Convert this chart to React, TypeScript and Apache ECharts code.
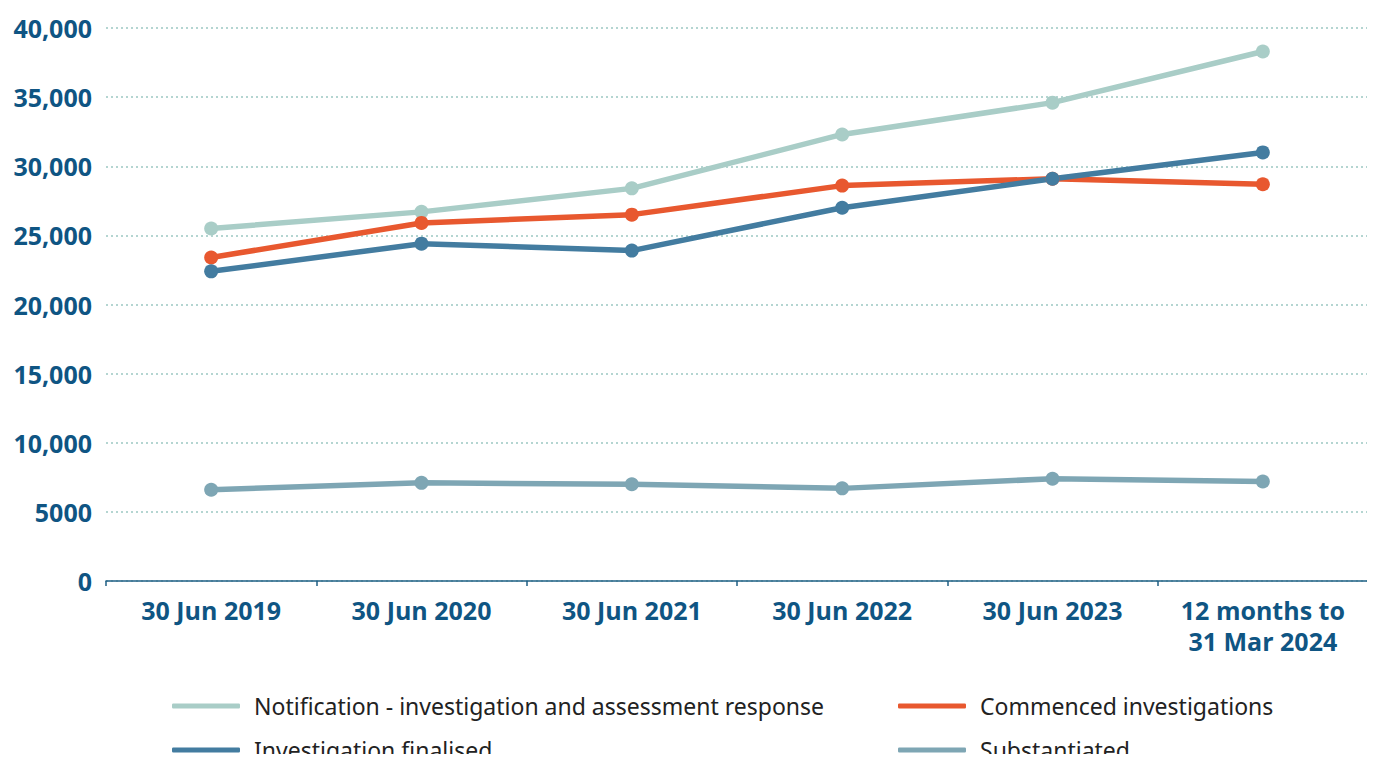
import React, { useEffect, useRef } from "react";
import * as echarts from "echarts";

const categories = ["30 Jun 2019", "30 Jun 2020", "30 Jun 2021", "30 Jun 2022", "30 Jun 2023", "12 months to\n31 Mar 2024"];
const notification = [25500, 26700, 28400, 32300, 34600, 38300];
const commenced = [23400, 25900, 26500, 28600, 29100, 28700];
const finalised = [22400, 24400, 23900, 27000, 29100, 31000];
const substantiated = [6600, 7100, 7000, 6700, 7400, 7200];
const yTicks = { min: 0, max: 40000, interval: 5000 };

const names = [
  "Notification - investigation and assessment response",
  "Commenced investigations",
  "Investigation finalised",
  "Substantiated",
];
const labelColor = "#0f5583";

export default function App() {
  const ref = useRef<HTMLDivElement>(null);
  useEffect(() => {
    const chart = echarts.init(ref.current!, null, { renderer: "svg" });
    const mk = (name: string, data: number[], color: string) => ({
      name,
      type: "line",
      data,
      symbol: "circle",
      symbolSize: 14,
      lineStyle: { width: 5.5, color },
      itemStyle: { color },
      z: 3,
    });
    const leg = (name: string, left: number, top: number) => ({
      left,
      top,
      padding: 0,
      itemWidth: 68,
      itemHeight: 5,
      icon: "roundRect",
      data: [name],
      textStyle: { fontFamily: "Noto Sans", fontSize: 23, color: "#222", lineHeight: 26, padding: [0, 0, 0, 9] },
    });
    chart.setOption({
      animation: false,
      grid: { left: 106, right: 7, top: 28, bottom: 181, containLabel: false },
      legend: [
        leg(names[0], 172, 693),
        leg(names[2], 172, 737),
        leg(names[1], 898, 693),
        leg(names[3], 898, 737),
      ],
      xAxis: {
        type: "category",
        data: categories,
        boundaryGap: true,
        axisLine: { lineStyle: { color: "#1f5f85", width: 1.5 } },
        axisTick: { show: true, length: 5, lineStyle: { color: "#1f5f85", width: 1.5 } },
        axisLabel: {
          color: labelColor,
          fontFamily: "Open Sans",
          fontWeight: "bold",
          fontSize: 25,
          lineHeight: 31,
          margin: 13,
          interval: 0,
        },
      },
      yAxis: {
        type: "value",
        min: yTicks.min,
        max: yTicks.max,
        interval: yTicks.interval,
        axisLine: { show: false },
        axisTick: { show: false },
        splitLine: { lineStyle: { color: "#9cc8c2", type: [2, 3], width: 1.5 } },
        axisLabel: {
          color: labelColor,
          fontFamily: "Open Sans",
          fontWeight: "bold",
          fontSize: 25,
          margin: 14,
          formatter: (v: number) => (v >= 10000 ? v.toLocaleString("en-US") : String(v)),
        },
      },
      series: [
        mk(names[0], notification, "#a9cdc7"),
        mk(names[1], commenced, "#e8582f"),
        mk(names[2], finalised, "#437ca0"),
        mk(names[3], substantiated, "#7ea6b4"),
      ],
    });
    return () => chart.dispose();
  }, []);
  return <div ref={ref} style={{ width: 1375, height: 762, margin: -8 }} />;
}
